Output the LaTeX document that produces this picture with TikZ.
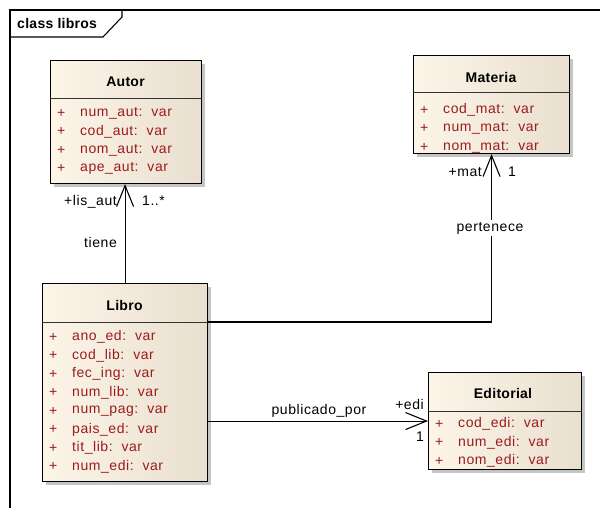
\documentclass[tikz,border=0pt]{standalone}
\usepackage{fontspec}
\setmainfont{Liberation Sans}
\newfontfamily\umlfont[LetterSpace=4]{Liberation Sans}
\newfontfamily\umlbold[LetterSpace=2]{Liberation Sans Bold}
\usetikzlibrary{arrows.meta}
\definecolor{attrred}{HTML}{9B1C1C}
\definecolor{boxL}{HTML}{FCF5E8}
\definecolor{boxR}{HTML}{E9DFCF}
\definecolor{shadowc}{HTML}{C4C4C4}
\tikzset{
  umlbox/.style={draw=black, line width=1.1pt, left color=boxL, right color=boxR, inner sep=0pt, anchor=north west},
  divider/.style={line width=1pt, draw=black!80},
  title/.style={font=\umlbold\fontsize{14}{15}\selectfont, inner sep=0pt},
  attr/.style={font=\umlfont\fontsize{14}{15}\selectfont, text=attrred, inner sep=0pt, anchor=west},
  lbl/.style={font=\umlfont\fontsize{14}{15}\selectfont, inner sep=0pt},
  assoc/.style={line width=1.1pt, -{Straight Barb[length=21pt,width=17pt,line width=1.1pt]}},
}
\begin{document}
\begin{tikzpicture}[x=1pt,y=-1pt]
\useasboundingbox (0,0) rectangle (600,508);
\fill[white] (0,0) rectangle (600,508);
% frame
\draw[line width=1.1pt] (10,508) -- (10,10) -- (600,10);
\draw[line width=1.1pt] (10,37) -- (103,37) -- (122,17) -- (122,10);
\node[title, anchor=west] (frametitle) at (17,23) {class libros};

% shadows
\fill[shadowc] (54,64) rectangle (205,187);
\fill[shadowc] (417,59) rectangle (573,157);
\fill[shadowc] (46,287) rectangle (211,485);
\fill[shadowc] (432,376) rectangle (585,473);

% Autor
\node[umlbox, minimum width=151pt, minimum height=123pt] (autor) at (50,60) {};
\draw[divider] (50,99) -- (201,99);
\node[title] (autort) at (125.5,82) {Autor};
\foreach \y/\t [count=\i] in {113/num\_aut:~~var,131.5/cod\_aut:~~var,150/nom\_aut:~~var,168.5/ape\_aut:~~var}{
  \node[attr] (autp\i) at (57,\y) {+};
  \node[attr] (auta\i) at (80,\y) {\t};
}

% Materia
\node[umlbox, minimum width=156pt, minimum height=98pt] (materia) at (413,55) {};
\draw[divider] (413,93) -- (569,93);
\node[title] (materiat) at (491,77) {Materia};
\foreach \y/\t [count=\i] in {110/cod\_mat:~~var,128.5/num\_mat:~~var,147/nom\_mat:~~var}{
  \node[attr] (matp\i) at (420,\y) {+};
  \node[attr] (mata\i) at (443,\y) {\t};
}

% Libro
\node[umlbox, minimum width=165pt, minimum height=198pt] (libro) at (42,283) {};
\draw[divider] (42,322) -- (207,322);
\node[title] (librot) at (124.5,305) {Libro};
\foreach \y/\t [count=\i] in {337/ano\_ed:~~var,355.5/cod\_lib:~~var,374/fec\_ing:~~var,392.5/num\_lib:~~var,411/num\_pag:~~var,429.5/pais\_ed:~~var,448/tit\_lib:~~var,466.5/num\_edi:~~var}{
  \node[attr] (libp\i) at (49,\y) {+};
  \node[attr] (liba\i) at (72,\y) {\t};
}

% Editorial
\node[umlbox, minimum width=153pt, minimum height=97pt] (editorial) at (428,372) {};
\draw[divider] (428,411) -- (581,411);
\node[title] (editt) at (503,393) {Editorial};
\foreach \y/\t [count=\i] in {424/cod\_edi:~~var,442.5/num\_edi:~~var,461/nom\_edi:~~var}{
  \node[attr] (edip\i) at (435,\y) {+};
  \node[attr] (edia\i) at (458,\y) {\t};
}

% connectors
\draw[assoc] (libro.north) -- (libro.north |- autor.south);
\coordinate (libdiv) at (207,322);
\draw[assoc] (libdiv) -| (materia.south);
\draw[assoc] (editorial.west -| libro.east) -- (editorial.west);

% labels
\node[lbl] (tiene) at (100.5,242) {tiene};
\node[lbl, anchor=east] (lisaut) at (117,202) {+lis\_aut};
\node[lbl, anchor=west] (lisautm) at (142,201) {1..*};
\node[lbl, anchor=east] (matr) at (482,172) {+mat};
\node[lbl, anchor=west] (matm) at (508,172) {1};
\node[lbl, fill=white, inner sep=2pt] (pert) at (490,228) {pertenece};
\node[lbl] (pub) at (319,411) {publicado\_por};
\node[lbl, anchor=east] (edir) at (424,404) {+edi};
\node[lbl, anchor=east] (edim) at (424,437) {1};
\end{tikzpicture}
\end{document}
